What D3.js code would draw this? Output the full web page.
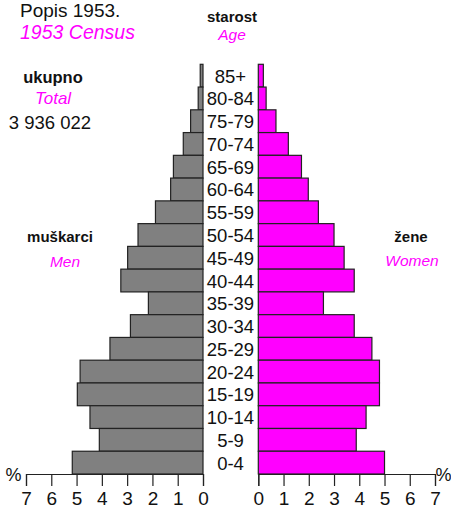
<!DOCTYPE html>
<html>
<head>
<meta charset="utf-8">
<script src="https://cdn.jsdelivr.net/npm/d3@7"></script>
<style>
  body { margin: 0; background: #fff; }
  svg text { font-family: "Liberation Sans", Arial, sans-serif; }
  svg text.narrow { font-family: "Liberation Sans Narrow", "Arial Narrow", "Liberation Sans", sans-serif; }
</style>
</head>
<body>
<svg width="451" height="512"></svg>
<script>
// age groups, top to bottom
let ages = ["85+", "80-84", "75-79", "70-74", "65-69", "60-64", "55-59", "50-54", "45-49",
  "40-44", "35-39", "30-34", "25-29", "20-24", "15-19", "10-14", "5-9", "0-4"];
// percent of total population
let men = [0.11, 0.19, 0.49, 0.78, 1.17, 1.28, 1.88, 2.57, 2.98,
  3.25, 2.16, 2.87, 3.68, 4.86, 4.97, 4.47, 4.10, 5.17];
let women = [0.20, 0.31, 0.70, 1.19, 1.71, 1.98, 2.38, 3.00, 3.40,
  3.80, 2.58, 3.80, 4.50, 4.80, 4.80, 4.27, 3.88, 5.00];
let ticks = [0, 1, 2, 3, 4, 5, 6, 7];

let svg = d3.select("svg");
let magenta = "#ff00ff";

let y = d3.scaleBand().domain(ages).range([64.3, 474]).padding(0);
let xl = d3.scaleLinear().domain([0, 7]).range([203, 26]);
let xr = d3.scaleLinear().domain([0, 7]).range([258.3, 435]);

// bars
svg.append("g").selectAll("rect")
  .data(ages)
  .enter().append("rect")
  .attr("x", (d, i) => xl(men[i]))
  .attr("y", d => y(d))
  .attr("width", (d, i) => xl(0) - xl(men[i]))
  .attr("height", y.bandwidth())
  .attr("fill", "#808080")
  .attr("stroke", "#222")
  .attr("stroke-width", 1.2);

svg.append("g").selectAll("rect")
  .data(ages)
  .enter().append("rect")
  .attr("x", xr(0))
  .attr("y", d => y(d))
  .attr("width", (d, i) => xr(women[i]) - xr(0))
  .attr("height", y.bandwidth())
  .attr("fill", magenta)
  .attr("stroke", "#222")
  .attr("stroke-width", 1.2);

// age labels
svg.append("g").selectAll("text")
  .data(ages)
  .enter().append("text")
  .attr("class", "narrow")
  .attr("x", 230.5)
  .attr("y", d => y(d) + y.bandwidth() / 2 + 7)
  .attr("text-anchor", "middle")
  .style("font-size", "18.5px")
  .attr("fill", "#111")
  .text(d => d);

// axes
function styleAxis(g) {
  g.selectAll("path, line").attr("stroke", "#222").attr("stroke-width", 1.2);
  g.selectAll("text")
    .attr("class", "narrow")
    .style("font-size", "19px")
    .attr("fill", "#111");
}
svg.append("g")
  .attr("transform", "translate(0,474)")
  .call(d3.axisBottom(xl).tickValues(ticks).tickSize(12).tickPadding(6).tickFormat(d3.format("d")))
  .call(styleAxis);
svg.append("g")
  .attr("transform", "translate(0,474)")
  .call(d3.axisBottom(xr).tickValues(ticks).tickSize(12).tickPadding(6).tickFormat(d3.format("d")))
  .call(styleAxis);

// texts
function label(x, yy, txt, size, opts) {
  opts = opts || {};
  return svg.append("text")
    .attr("class", opts.narrow ? "narrow" : null)
    .attr("x", x).attr("y", yy)
    .attr("text-anchor", opts.anchor || "middle")
    .style("font-size", size + "px")
    .style("font-weight", opts.bold ? "bold" : "normal")
    .style("font-style", opts.italic ? "italic" : "normal")
    .attr("fill", opts.color || "#111")
    .text(txt);
}

label(20, 17, "Popis 1953.", 19, {anchor: "start"});
label(20, 39, "1953 Census", 19.5, {anchor: "start", italic: true, color: magenta});

label(53, 83, "ukupno", 16.5, {bold: true});
label(53, 103.5, "Total", 17, {italic: true, color: magenta});
label(50, 128.5, "3 936 022", 18.5, {narrow: true});

label(232, 22, "starost", 15, {bold: true});
label(232, 40, "Age", 15.5, {italic: true, color: magenta});

label(60, 242, "muškarci", 15, {bold: true});
label(65, 267, "Men", 15.5, {italic: true, color: magenta});
label(411, 242, "žene", 15, {bold: true});
label(412, 266, "Women", 15.5, {italic: true, color: magenta});

label(13.5, 481, "%", 18, {narrow: true});
label(443.5, 481, "%", 18, {narrow: true});
</script>
</body>
</html>
